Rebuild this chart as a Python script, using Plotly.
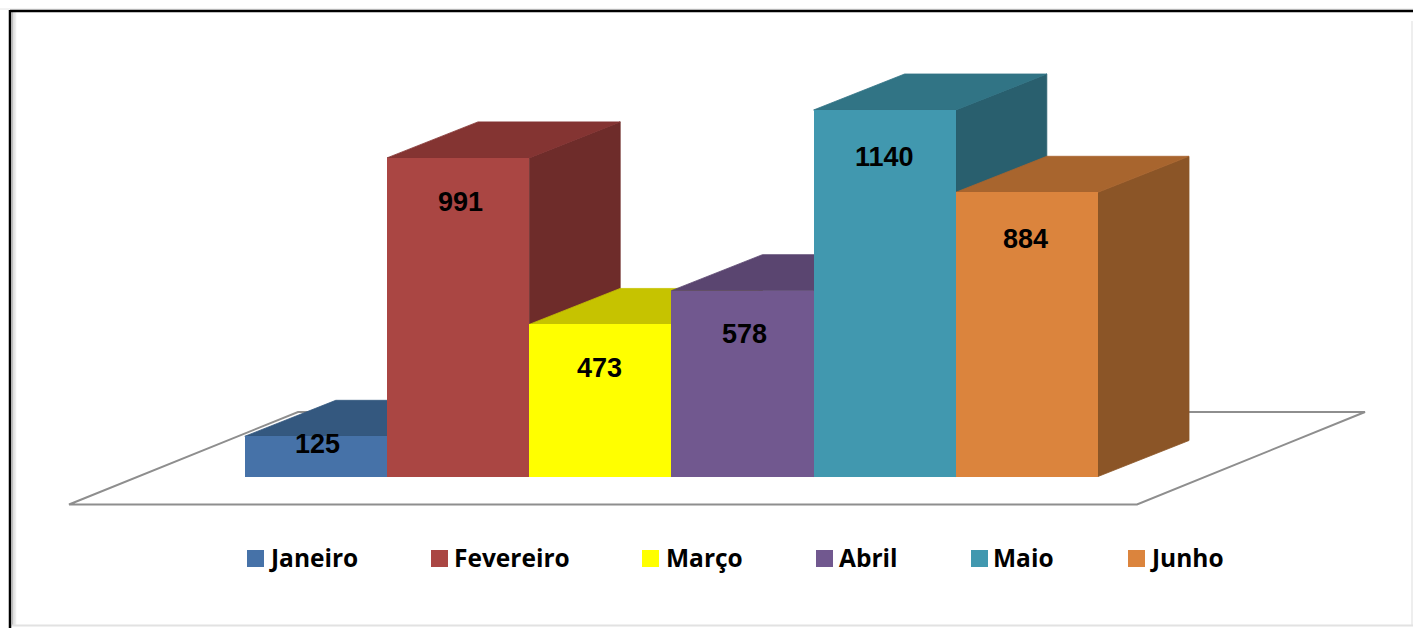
import plotly.graph_objects as go

# ---- data ----
months = ["Janeiro", "Fevereiro", "Março", "Abril", "Maio", "Junho"]
values = [125, 991, 473, 578, 1140, 884]

# ---- styles ----
front_colors = ["#4672A8", "#AA4643", "#FFFF00", "#71588F", "#4198AF", "#DB843D"]
top_colors = ["#34587F", "#843432", "#C6C300", "#5A4570", "#317485", "#A8652E"]
side_colors = ["#2C4A6C", "#6E2C2A", "#A8A500", "#4B3A5E", "#295F6E", "#8B5527"]
label_drop_px = [8, 44, 44, 43, 47, 47]
label_shift_px = [2, 2, -1, 2, 0, -1]
legend_swatch_px = [255.5, 439.5, 650.5, 824.5, 979.5, 1136.5]
legend_text_px = [270, 455, 667, 840, 994, 1151]
LEGEND_Y_PX = 558.5
LEGEND_TEXT_Y_PX = 557.5

W, H = 1413, 628
BAR_PX = 142.2           # one category in pixels
FIRST_CENTER_PX = 315.9  # centre of first bar
BASE_PX = 476.5          # value 0 in pixels
PX_PER_VALUE = 0.3215
DEPTH_X = 91 / BAR_PX    # oblique depth in axis units
DEPTH_Y = 36 / PX_PER_VALUE

x_range = [-FIRST_CENTER_PX / BAR_PX, (W - FIRST_CENTER_PX) / BAR_PX]
y_range = [-(H - BASE_PX) / PX_PER_VALUE, BASE_PX / PX_PER_VALUE]

fig = go.Figure()

# depth faces, left to right, so nearer boxes cover farther ones
for i, (m, v) in enumerate(zip(months, values)):
    l, r = i - 0.5, i + 0.5
    fig.add_trace(go.Scatter(
        x=[r, r + DEPTH_X, r + DEPTH_X, r, r], y=[0, DEPTH_Y, v + DEPTH_Y, v, 0],
        mode="lines", fill="toself", fillcolor=side_colors[i],
        line=dict(width=0.8, color=side_colors[i]),
        hoverinfo="skip", showlegend=False, name=m + " lado"))
    fig.add_trace(go.Scatter(
        x=[l, r, r + DEPTH_X, l + DEPTH_X, l], y=[v, v, v + DEPTH_Y, v + DEPTH_Y, v],
        mode="lines", fill="toself", fillcolor=top_colors[i],
        line=dict(width=0.8, color=top_colors[i]),
        hoverinfo="skip", showlegend=False, name=m + " topo"))

# front faces on an overlaying axis pair so they stay above the depth faces
fig.add_trace(go.Bar(
    x=list(range(len(months))), y=values, width=1, xaxis="x2", yaxis="y2",
    marker=dict(color=front_colors, line=dict(width=0)),
    customdata=months, hovertemplate="%{customdata}: %{y}<extra></extra>",
    showlegend=False))

# legend drawn at the reference's uneven spacing
for m, c, px_ in zip(months, front_colors, legend_swatch_px):
    fig.add_trace(go.Scatter(
        x=[px_], y=[LEGEND_Y_PX], xaxis="x3", yaxis="y3", mode="markers",
        marker=dict(symbol="square", size=17, color=c, line=dict(width=0)),
        hoverinfo="skip", showlegend=False, name=m, cliponaxis=False))

annotations = [
    dict(x=i, y=v, xref="x2", yref="y2", yshift=-d, xshift=s, text=str(v), showarrow=False,
         xanchor="center", yanchor="middle",
         font=dict(family="Liberation Sans", size=27, color="#000000", weight="bold"))
    for i, (v, d, s) in enumerate(zip(values, label_drop_px, label_shift_px))
] + [
    dict(x=t, y=LEGEND_TEXT_Y_PX, xref="x3", yref="y3", text=m, showarrow=False,
         xanchor="left", yanchor="middle", xshift=-1, borderpad=0, borderwidth=0,
         font=dict(family="Open Sans", size=24.5, color="#000000", weight="bold"))
    for m, t in zip(months, legend_text_px)
]


def px(x):
    return x / W


def py(y):
    return 1 - y / H


def line(x0, y0, x1, y1, color, width):
    return dict(type="line", xref="paper", yref="paper", layer="below",
                x0=px(x0), y0=py(y0), x1=px(x1), y1=py(y1),
                line=dict(color=color, width=width))


floor = [(69, 504.5), (1137, 504.5), (1365, 412), (298, 412)]
floor_path = "M " + " L ".join(f"{px(a):.5f},{py(b):.5f}" for a, b in floor) + " Z"

shapes = [
    # soft inner shadow of the frame
    line(12.5, 12, 12.5, 626, "#BDBDBD", 1.5),
    line(14, 12, 14, 626, "#DADADA", 1.5),
    line(15.5, 12, 15.5, 626, "#EEEEEE", 1.5),
    line(1412, 21, 1412, 626, "#E8E8E8", 1.5),
    line(11, 625.5, 1413, 625.5, "#E2E2E2", 2),
    line(0, 9, 1413, 9, "#E6E6E6", 1),
    # frame
    line(10, 11, 1413, 11, "#000000", 2.5),
    line(10, 10, 10, 628, "#000000", 2.5),
    # floor
    dict(type="path", xref="paper", yref="paper", layer="below", path=floor_path,
         fillcolor="#FFFFFF", line=dict(color="#8E8E8E", width=2)),
]

hidden = dict(visible=False, fixedrange=True)
fig.update_layout(
    width=W, height=H, autosize=False,
    margin=dict(l=0, r=0, t=0, b=0),
    paper_bgcolor="#FFFFFF", plot_bgcolor="rgba(0,0,0,0)",
    showlegend=False, bargap=0,
    xaxis=dict(range=x_range, domain=[0, 1], **hidden),
    yaxis=dict(range=y_range, domain=[0, 1], **hidden),
    xaxis2=dict(range=x_range, overlaying="x", anchor="y2", **hidden),
    yaxis2=dict(range=y_range, overlaying="y", anchor="x2", **hidden),
    xaxis3=dict(range=[0, W], overlaying="x", anchor="y3", **hidden),
    yaxis3=dict(range=[H, 0], overlaying="y", anchor="x3", **hidden),
    shapes=shapes, annotations=annotations,
)

fig.write_html(
    "out.html",
    config={"displayModeBar": False},
    post_script="document.body.style.margin='0';document.documentElement.style.overflow='hidden';",
)
